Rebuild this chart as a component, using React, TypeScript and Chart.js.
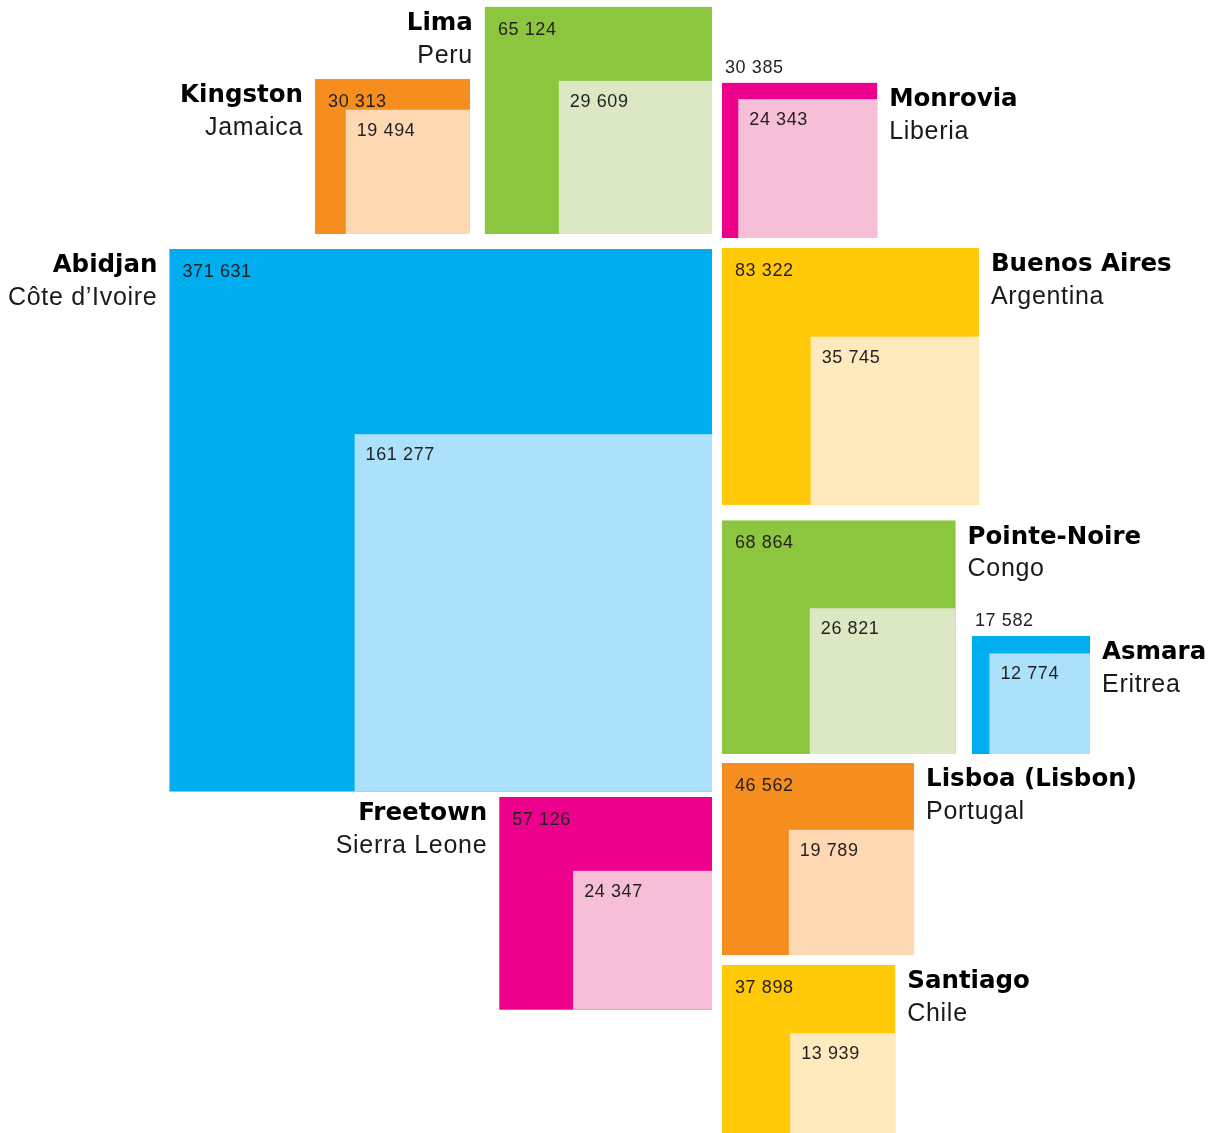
import React, { useEffect, useRef } from "react";
import { Chart, registerables } from "chart.js";

Chart.register(...registerables);

// ---- data ----
const CITIES = ["Abidjan", "Lima", "Kingston", "Monrovia", "Buenos Aires", "Pointe-Noire", "Asmara", "Lisboa (Lisbon)", "Freetown", "Santiago"];
const COUNTRIES = ["Côte d’Ivoire", "Peru", "Jamaica", "Liberia", "Argentina", "Congo", "Eritrea", "Portugal", "Sierra Leone", "Chile"];
const TOTALS = [371631, 65124, 30313, 30385, 83322, 68864, 17582, 46562, 57126, 37898];
const INNERS = [161277, 29609, 19494, 24343, 35745, 26821, 12774, 19789, 24347, 13939];

// ---- styles / layout ----
const OUTER_COLORS = ["#00ADEE", "#8CC63F", "#F68E1F", "#EC008C", "#FFC907", "#8CC63F", "#00ADEE", "#F68E1F", "#EC008C", "#FFC907"];
const INNER_COLORS = ["#ABE1FA", "#DBE8C3", "#FED8B3", "#F7BED8", "#FEEABD", "#DBE8C3", "#ABE1FA", "#FED8B3", "#F7BED8", "#FEEABD"];
// anchor point (axis units), which corner it is, label side, value label outside
const LAYOUT = [
  { ax: 712, ay: 249, h: "right", v: "top", label: "left", out: false },
  { ax: 712, ay: 234, h: "right", v: "bottom", label: "left", out: false },
  { ax: 470, ay: 234, h: "right", v: "bottom", label: "left", out: false },
  { ax: 722, ay: 238, h: "left", v: "bottom", label: "right", out: true },
  { ax: 722, ay: 248, h: "left", v: "top", label: "right", out: false },
  { ax: 722, ay: 754, h: "left", v: "bottom", label: "right", out: false },
  { ax: 972, ay: 754, h: "left", v: "bottom", label: "right", out: true },
  { ax: 722, ay: 763, h: "left", v: "top", label: "right", out: false },
  { ax: 712, ay: 797, h: "right", v: "top", label: "left", out: false },
  { ax: 722, ay: 965, h: "left", v: "top", label: "right", out: false },
];
const K = 0.89; // side length per sqrt(value), axis units
const W = 1212;
const H = 1133;

const fmt = (n: number) => String(n).replace(/\B(?=(\d{3})+(?!\d))/g, " ");

const squaresPlugin = {
  id: "squares",
  afterDraw(chart: any) {
    const ctx = chart.ctx as CanvasRenderingContext2D;
    const xs = chart.scales.x;
    const ys = chart.scales.y;
    ctx.save();
    for (let i = 0; i < CITIES.length; i++) {
      const L = LAYOUT[i];
      const s = Math.sqrt(TOTALS[i]) * K;
      const si = Math.sqrt(INNERS[i]) * K;
      const x0 = L.h === "left" ? L.ax : L.ax - s;
      const y0 = L.v === "top" ? L.ay : L.ay - s;
      const x1 = x0 + s;
      const y1 = y0 + s;
      const px0 = xs.getPixelForValue(x0);
      const px1 = xs.getPixelForValue(x1);
      const py0 = ys.getPixelForValue(y0);
      const py1 = ys.getPixelForValue(y1);
      ctx.fillStyle = OUTER_COLORS[i];
      ctx.fillRect(px0, py0, px1 - px0, py1 - py0);
      const ix0 = xs.getPixelForValue(x1 - si);
      const iy0 = ys.getPixelForValue(y1 - si);
      ctx.fillStyle = INNER_COLORS[i];
      ctx.fillRect(ix0, iy0, px1 - ix0, py1 - iy0);

      // values
      ctx.fillStyle = "#231F20";
      ctx.font = '18px "Liberation Sans"';
      (ctx as any).letterSpacing = "0.6px";
      ctx.textAlign = "left";
      ctx.textBaseline = "middle";
      if (L.out) ctx.fillText(fmt(TOTALS[i]), px0 + 3, py0 - 15);
      else ctx.fillText(fmt(TOTALS[i]), px0 + 13, py0 + 23);
      ctx.fillText(fmt(INNERS[i]), ix0 + 11, iy0 + 21);

      // names
      ctx.fillStyle = "#000";
      const lx = L.label === "left" ? px0 - 12 : px1 + 12;
      ctx.textAlign = L.label === "left" ? "right" : "left";
      (ctx as any).letterSpacing = "0px";
      ctx.font = 'bold 24.5px "DejaVu Sans"';
      ctx.fillText(CITIES[i], lx, py0 + 17);
      ctx.fillStyle = "#1a1a1a";
      ctx.font = '25px "Liberation Sans"';
      (ctx as any).letterSpacing = "0.7px";
      ctx.fillText(COUNTRIES[i], lx, py0 + 49);
      (ctx as any).letterSpacing = "0px";
    }
    ctx.restore();
  },
};

export default function App() {
  const ref = useRef<HTMLCanvasElement>(null);
  useEffect(() => {
    if (!ref.current) return;
    const chart = new Chart(ref.current, {
      type: "scatter",
      data: { datasets: [{ data: [] }] },
      options: {
        animation: false,
        responsive: false,
        maintainAspectRatio: false,
        devicePixelRatio: 1,
        layout: { padding: 0 },
        plugins: { legend: { display: false }, tooltip: { enabled: false } },
        scales: {
          x: { type: "linear", min: 0, max: W, display: false },
          y: { type: "linear", min: 0, max: H, reverse: true, display: false },
        },
      },
      plugins: [squaresPlugin],
    });
    return () => chart.destroy();
  }, []);
  return (
    <div style={{ position: "fixed", left: 0, top: 0, width: W, height: H, background: "#fff" }}>
      <canvas ref={ref} width={W} height={H} style={{ display: "block" }} />
    </div>
  );
}
